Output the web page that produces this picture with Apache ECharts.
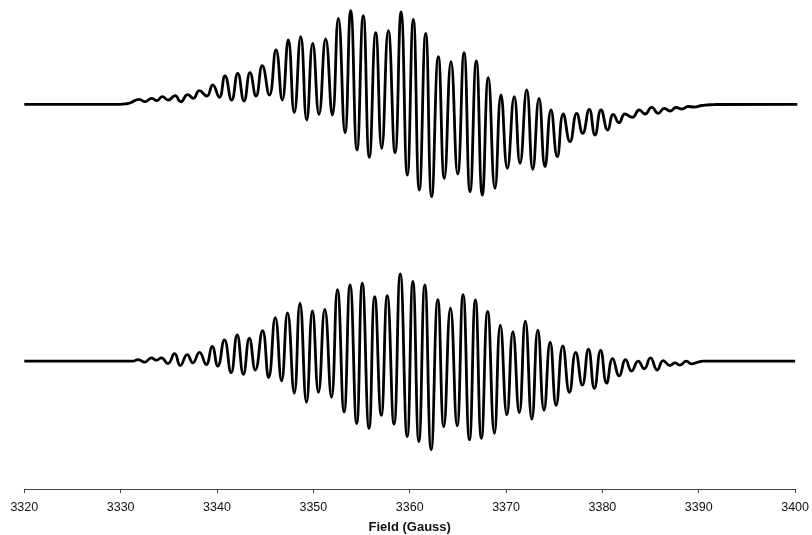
<!DOCTYPE html>
<html>
<head>
<meta charset="utf-8">
<script src="https://cdn.jsdelivr.net/npm/echarts@6/dist/echarts.min.js"></script>
<style>
html,body{margin:0;padding:0;background:#fff;}
#chart{width:812px;height:535px;}
</style>
</head>
<body>
<div id="chart"></div>
<script>
var topField = [3320.00,3329.90,3330.73,3330.94,3331.90,3332.49,3333.19,3333.70,3334.28,3334.90,3335.60,3336.19,3336.91,3337.49,3338.11,3338.88,3339.50,3340.18,3340.77,3341.46,3342.09,3342.74,3343.36,3343.98,3344.63,3345.36,3346.05,3346.70,3347.32,3347.94,3348.61,3349.23,3349.85,3350.50,3351.19,3351.88,3352.50,3353.19,3353.78,3354.43,3355.08,3355.71,3356.37,3356.99,3357.67,3358.37,3358.99,3359.64,3360.26,3360.88,3361.54,3362.16,3362.85,3363.47,3364.16,3364.85,3365.51,3366.13,3366.78,3367.40,3368.02,3368.71,3369.34,3369.99,3370.71,3371.30,3372.00,3372.62,3373.27,3373.89,3374.51,3375.16,3375.78,3376.48,3377.17,3377.79,3378.47,3379.06,3379.69,3380.38,3380.96,3381.55,3382.17,3382.92,3383.65,3384.24,3384.93,3385.61,3386.24,3386.83,3387.45,3388.07,3388.69,3389.31,3390.14,3391.48,3400.00];
var topSignal = [0,0,0.8,1.3,5.0,2.6,6.0,3.6,7.6,4.3,8.6,2.6,9.6,6.0,13.6,8.3,19.3,7.0,28.3,4.3,31.0,3.3,31.6,8.3,38.6,9.3,54.3,4.3,64.3,-8.4,67.6,-15.7,61.0,-10.0,65.3,-10.7,86.0,-28.4,93.6,-45.7,88.6,-53.0,71.6,-44.0,73.6,-48.4,92.3,-70.7,85.0,-85.7,71.0,-92.4,47.6,-74.0,42.6,-69.7,51.6,-87.4,43.3,-90.7,26.6,-84.0,9.3,-64.0,7.6,-59.0,14.3,-65.0,6.0,-62.4,-5.7,-52.4,-9.7,-37.4,-9.0,-29.0,-5.0,-30.7,-5.7,-25.7,-10.0,-18.4,-9.7,-13.0,-5.7,-9.7,-3.0,-9.0,-4.0,-6.7,-3.2,-4.7,-2.2,-2.7,-1.2,-0.2,0];

var bottomField = [3320.00,3331.25,3331.80,3332.49,3333.19,3333.70,3334.22,3334.90,3335.60,3336.19,3336.91,3337.49,3338.18,3338.88,3339.50,3340.08,3340.77,3341.46,3342.09,3342.74,3343.36,3343.98,3344.73,3345.36,3346.05,3346.70,3347.32,3348.02,3348.61,3349.29,3349.91,3350.53,3351.19,3351.88,3352.50,3353.19,3353.81,3354.50,3355.08,3355.78,3356.37,3357.05,3357.67,3358.37,3359.02,3359.74,3360.33,3360.95,3361.57,3362.23,3362.92,3363.54,3364.23,3364.92,3365.54,3366.20,3366.82,3367.44,3368.09,3368.79,3369.41,3370.09,3370.71,3371.37,3372.00,3372.68,3373.30,3373.94,3374.58,3375.20,3375.89,3376.58,3377.23,3377.92,3378.55,3379.17,3379.82,3380.44,3381.06,3381.75,3382.41,3383.03,3383.72,3384.34,3384.99,3385.69,3386.31,3387.00,3387.52,3388.04,3388.72,3389.24,3389.93,3390.45,3400.00];
var bottomSignal = [0,0,1.6,-1.0,3.3,1.0,3.3,-2.4,7.6,-4.4,6.6,-1.7,9.0,-3.4,15.0,-5.0,21.6,-11.7,26.6,-13.4,23.3,-9.0,31.0,-16.7,44.3,-20.0,49.0,-32.4,59.0,-41.7,51.0,-31.7,52.6,-36.7,72.6,-51.7,77.6,-63.4,79.3,-68.4,65.6,-55.0,66.6,-64.0,88.6,-76.7,81.0,-81.7,77.6,-90.0,62.6,-66.7,54.0,-65.7,67.6,-80.0,62.3,-78.4,50.6,-73.4,36.6,-54.4,30.0,-52.4,40.6,-59.0,31.6,-50.0,19.3,-45.0,15.6,-31.7,9.0,-24.4,12.3,-27.7,11.0,-22.4,2.6,-15.0,1.6,-10.0,0,-7.7,3.3,-9.0,0.6,-4.4,-1.7,-4.0,0,-2.7,-1.0,0,0];

var xTickMin = 3320, xTickMax = 3400, xTickStep = 10;
var xTitle = 'Field (Gauss)';

function pairs(xs, ys){ var out=[]; for (var i=0;i<xs.length;i++) out.push([xs[i], ys[i]]); return out; }

var font = '"Liberation Sans", Arial, Helvetica, sans-serif';
var chart = echarts.init(document.getElementById('chart'), null, {renderer:'canvas'});
chart.setOption({
  animation: false,
  backgroundColor: '#ffffff',
  grid: [
    {left: 24.3, right: 14.7, top: 4.3, height: 200},
    {left: 24.3, right: 14.7, top: 233.3, height: 260}
  ],
  xAxis: [
    {gridIndex: 0, type: 'value', min: xTickMin, max: xTickMax, show: false},
    {gridIndex: 1, type: 'value', min: xTickMin, max: xTickMax, interval: xTickStep,
     axisLine: {onZero: false, lineStyle: {color: '#444', width: 1}},
     axisTick: {show: true, inside: false, length: 4, lineStyle: {color: '#444'}},
     splitLine: {show: false},
     axisLabel: {color: '#111', fontFamily: font, fontSize: 12.5, margin: 12,
                 formatter: function(v){ return String(v); }},
     name: xTitle, nameLocation: 'middle', nameGap: 32,
     nameTextStyle: {color: '#111', fontFamily: font, fontSize: 13, fontWeight: 'bold'}}
  ],
  yAxis: [
    {gridIndex: 0, type: 'value', min: -100, max: 100, show: false},
    {gridIndex: 1, type: 'value', min: -130, max: 130, show: false}
  ],
  series: [
    {type: 'line', xAxisIndex: 0, yAxisIndex: 0, data: pairs(topField, topSignal),
     smooth: 0.5, showSymbol: false, lineStyle: {color: '#000', width: 2.8}, clip: false},
    {type: 'line', xAxisIndex: 1, yAxisIndex: 1, data: pairs(bottomField, bottomSignal),
     smooth: 0.5, showSymbol: false, lineStyle: {color: '#000', width: 2.8}, clip: false}
  ]
});
</script>
</body>
</html>
